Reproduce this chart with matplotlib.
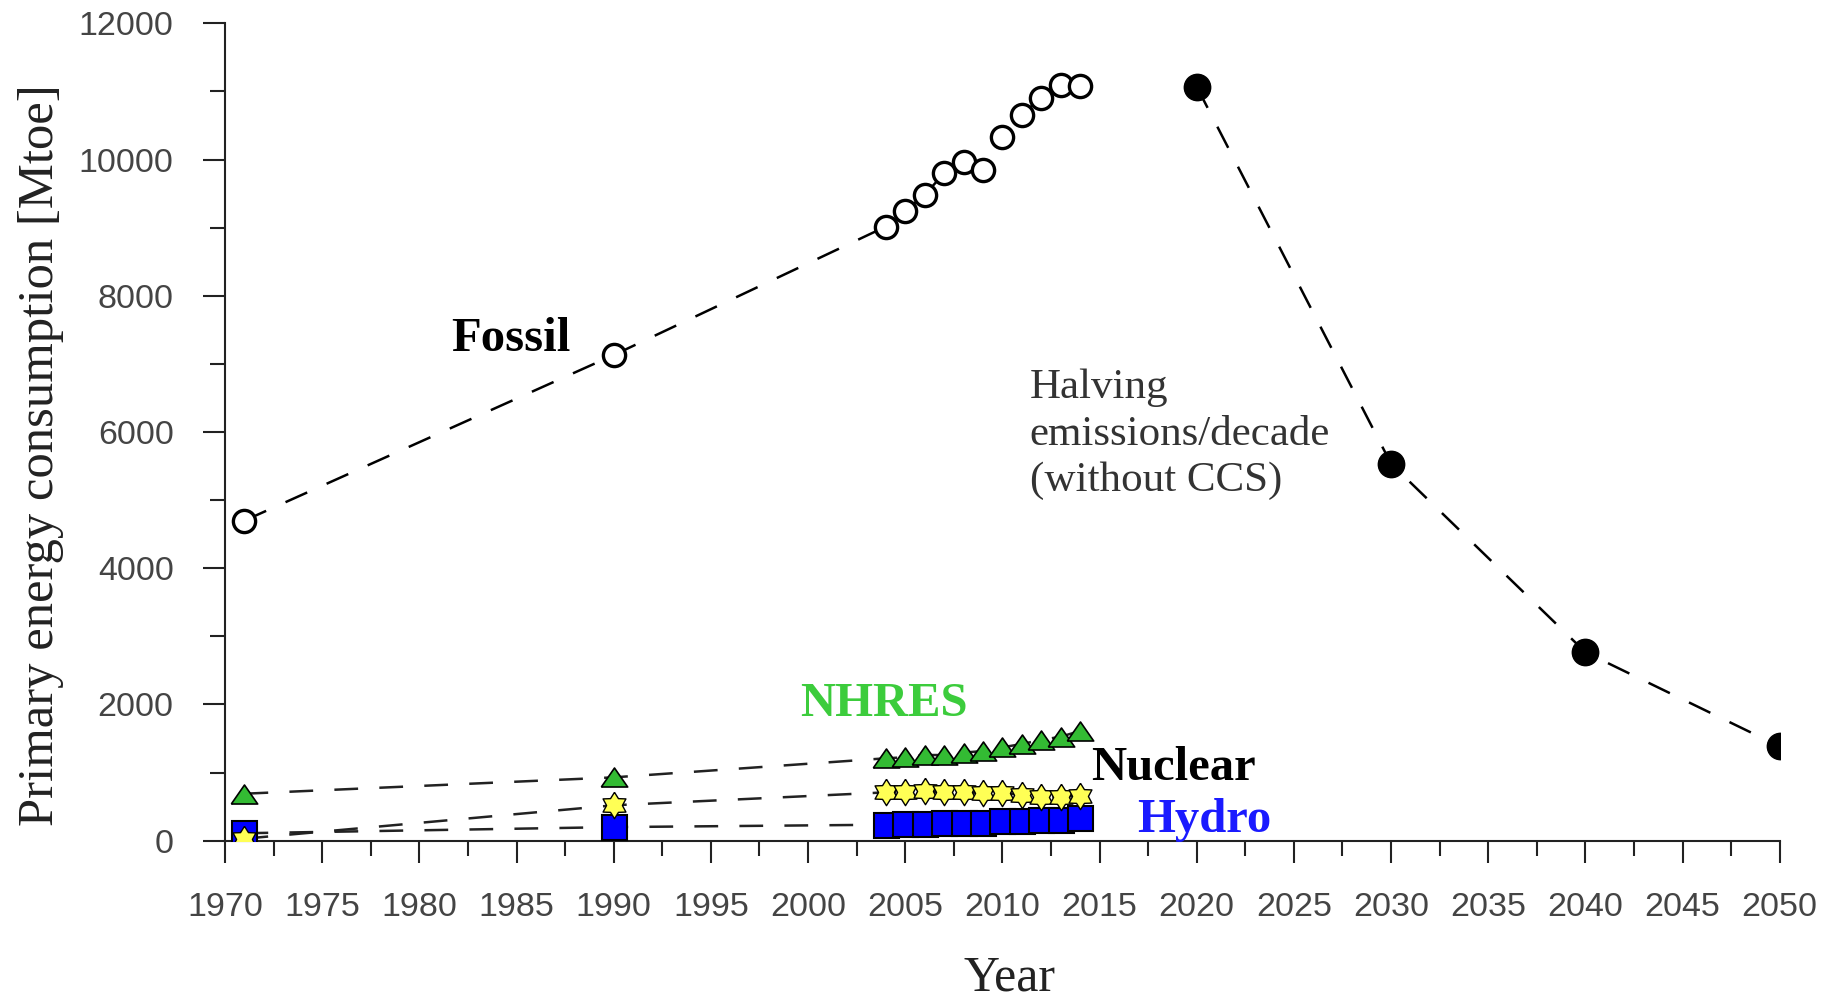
import numpy as np
import matplotlib
matplotlib.use("Agg")
import matplotlib.pyplot as plt
from matplotlib.ticker import MultipleLocator

# historical years and the 2020-2050 fossil pathway
years_hist = [1971, 1990] + list(range(2004, 2015))
years_proj = [2020, 2030, 2040, 2050]

# primary energy consumption [Mtoe]
fossil = [4700, 7130, 9016, 9250, 9480, 9800, 9970, 9840, 10330, 10660, 10910, 11100, 11080]
fossil_proj = [11070, 5535, 2768, 1384]
nhres = [690, 930, 1210, 1225, 1258, 1258, 1293, 1317, 1371, 1420, 1479, 1527, 1611]
nuclear = [30, 520, 710, 715, 730, 710, 712, 700, 705, 670, 645, 645, 660]
hydro = [110, 200, 235, 245, 250, 255, 255, 255, 290, 295, 300, 305, 335]

LW = 1.8
DASH = (0, (9.5, 8.5))
SERIF = "Liberation Serif"
SANS = "Liberation Sans"

fig = plt.figure(figsize=(18.31, 9.98), dpi=100)
ax = fig.add_axes([0.1229, 0.1576, 0.8491, 0.819])

# dashed connecting lines first, markers on top
for ys in (nhres, nuclear, hydro):
    ax.plot(years_hist, ys, ls=DASH, color="#222222", lw=LW, zorder=2)
ax.plot(years_hist, fossil, ls=DASH, color="black", lw=LW, zorder=2)
ax.plot(years_proj, fossil_proj, ls=DASH, color="black", lw=LW, zorder=2)

tri = [(-1, -0.72), (1, -0.72), (0, 0.72), (-1, -0.72)]
ang = np.pi / 2 + np.arange(13) * np.pi / 6
rad = np.where(np.arange(13) % 2 == 0, 1.0, 0.6)
star = list(zip(rad * np.cos(ang), rad * np.sin(ang)))

ax.plot(years_hist, nhres, ls="none", marker=tri, ms=19, mfc="#33bb33",
        mec="black", mew=1.2, zorder=4)
ax.plot(years_hist, hydro, ls="none", marker="s", ms=18, mfc="#0000ff",
        mec="black", mew=1.5, zorder=4)
ax.plot(years_hist, nuclear, ls="none", marker=star, ms=19, mfc="#ffff55",
        mec="black", mew=1.0, zorder=5)
ax.plot(years_hist, fossil, ls="none", marker="o", ms=16, mfc="white",
        mec="black", mew=2.4, zorder=4)
ax.plot(years_proj, fossil_proj, ls="none", marker="o", ms=19, mfc="black",
        mec="black", mew=1, zorder=4)

ax.set_xlim(1970, 2050)
ax.set_ylim(0, 12000)
ax.xaxis.set_major_locator(MultipleLocator(5))
ax.xaxis.set_minor_locator(MultipleLocator(2.5))
ax.yaxis.set_major_locator(MultipleLocator(2000))
ax.yaxis.set_minor_locator(MultipleLocator(1000))

for s in ("top", "right"):
    ax.spines[s].set_visible(False)
for s in ("left", "bottom"):
    ax.spines[s].set_linewidth(1.5)
    ax.spines[s].set_color("#222222")

ax.tick_params(which="major", length=16, width=1.5, color="#222222",
               labelsize=24.5, labelcolor="#444444", pad=21)
ax.tick_params(which="minor", length=11, width=1.5, color="#222222")
for lab in ax.get_xticklabels() + ax.get_yticklabels():
    lab.set_fontfamily(SANS)

# series labels
ax.text(1984.7, 7370, "Fossil", ha="center", va="center", fontsize=35,
        fontweight="bold", family=SERIF, color="black")
ax.text(2003.9, 2006, "NHRES", ha="center", va="center", fontsize=35,
        fontweight="bold", family=SERIF, color="#3ccc3c")
ax.text(2018.8, 1063, "Nuclear", ha="center", va="center", fontsize=35,
        fontweight="bold", family=SERIF, color="black")
ax.text(2020.4, 309, "Hydro", ha="center", va="center", fontsize=35,
        fontweight="bold", family=SERIF, color="#1a1aff")
ax.text(2011.4, 6930, "Halving\nemissions/decade\n(without CCS)", ha="left",
        va="top", fontsize=31, family=SERIF, color="#333333", linespacing=1.27)

fig.text(41 / 1831, 1 - 455 / 998, "Primary energy consumption [Mtoe]",
         rotation=90, ha="center", va="center", fontsize=36.5, family=SERIF,
         color="#222222")
fig.text(1010 / 1831, 1 - 978 / 998, "Year", ha="center", va="center",
         fontsize=36, family=SERIF, color="#222222")

fig.savefig("out.png", dpi=100, facecolor="white")
